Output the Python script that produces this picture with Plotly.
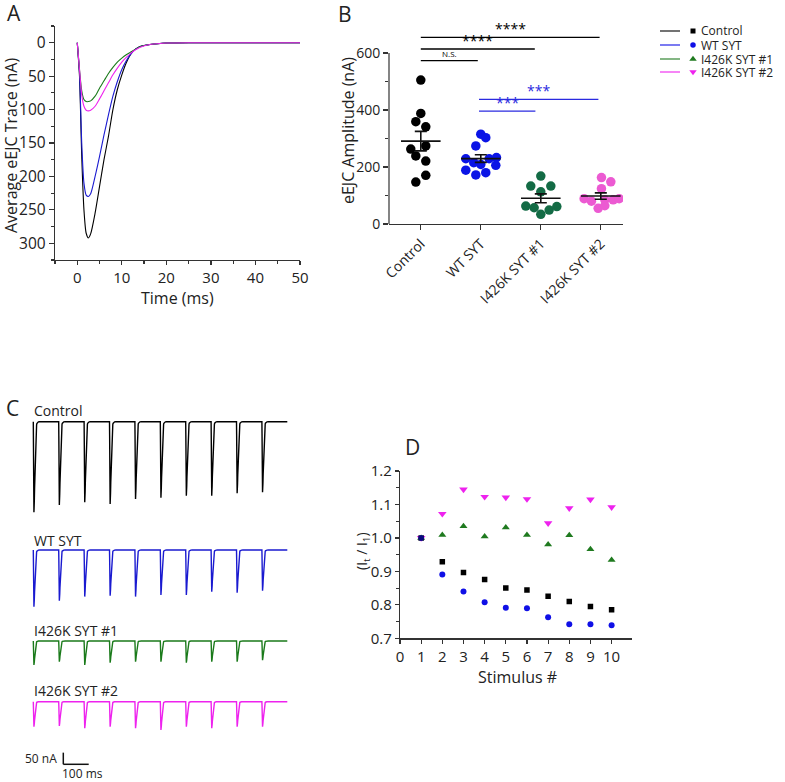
import numpy as np
import plotly.graph_objects as go

W, H = 785, 782

# ---------------- Data ----------------
# Panel A: average eEJC traces (nA) vs time (ms)
t_A = [0, 0.5, 1, 1.5, 2, 2.5, 3, 4, 5, 6, 7, 8, 9, 10, 11, 12, 13, 14, 16, 18, 20, 25, 30, 40, 50]
ctrl_A = [0, 50, 170, 250, 285, 292, 286, 255, 215, 175, 140, 100, 70, 48, 30, 17, 10, 6, 3, 1.5, 0.5, 0, 0, 0, 0]
wt_A = [0, 45, 150, 210, 228, 230, 226, 200, 170, 138, 108, 80, 58, 40, 27, 17, 10, 6, 3, 1.5, 0.5, 0, 0, 0, 0]
m1_A = [0, 40, 72, 85, 88, 88, 87, 80, 68, 57, 46, 37, 29, 23, 18, 14, 10, 6, 3, 1.5, 0.5, 0, 0, 0, 0]
m2_A = [0, 40, 78, 95, 101, 102, 101, 95, 84, 72, 60, 48, 38, 29, 22, 16, 11, 7, 3, 1.5, 0.5, 0, 0, 0, 0]

# Panel B: eEJC amplitudes (nA) with horizontal scatter offsets
groups_B = ["Control", "WT SYT", "I426K SYT #1", "I426K SYT #2"]
ctrl_B = [505, 388, 359, 341, 263, 274, 239, 221, 171, 147]
ctrl_off = [0, 0, -0.083, 0.083, -0.167, 0.083, -0.083, 0.083, 0.083, -0.083]
wt_B = [315, 303, 274, 229, 229, 233, 215, 209, 206, 189, 180, 172]
wt_off = [0, 0.083, -0.083, -0.25, 0.139, 0.261, -0.117, 0, 0.25, -0.25, 0.083, -0.083]
m1_B = [168, 133, 133, 113, 63, 57, 49, 61, 34]
m1_off = [0, -0.167, 0.167, 0, -0.25, -0.111, 0.139, 0.267, 0]
m2_B = [163, 148, 124, 89, 80, 85, 85, 89, 55, 64]
m2_off = [0.011, 0.167, 0.011, -0.278, -0.156, 0.067, 0.206, 0.306, -0.044, 0.067]

# significance brackets: (from group, to group, level nA, label)
sig_from = [0, 0, 0, 0.97, 0.97]
sig_to = [2.98, 1.9, 0.95, 2.96, 1.91]
sig_level = [655, 614, 573, 437, 396]
sig_text = ["****", "****", "N.S.", "***", "***"]

# Panel C: peak amplitudes (nA) of 10 pulses (100 ms apart)
c_ctrl = [389, 357, 346, 353, 332, 326, 318, 318, 307, 303]
c_wt = [243, 218, 200, 196, 200, 193, 193, 179, 183, 175]
c_m1 = [103, 89, 103, 93, 89, 89, 93, 89, 89, 82]
c_m2 = [107, 104, 114, 107, 114, 121, 107, 114, 107, 107]
c_labels = ["Control", "WT SYT", "I426K SYT #1", "I426K SYT #2"]
pulse_interval_ms = 100

# Panel D: normalized amplitude It/I1
stim = [1, 2, 3, 4, 5, 6, 7, 8, 9, 10]
d_ctrl = [1.0, 0.929, 0.897, 0.876, 0.850, 0.844, 0.826, 0.810, 0.795, 0.785]
d_wt = [1.0, 0.891, 0.840, 0.808, 0.791, 0.790, 0.763, 0.742, 0.742, 0.739]
d_m1 = [1.0, 1.009, 1.035, 1.004, 1.031, 1.009, 0.980, 1.008, 0.966, 0.934]
d_m2 = [1.0, 1.072, 1.145, 1.123, 1.121, 1.116, 1.044, 1.089, 1.115, 1.092]

# ---------------- Styling ----------------
FONT = "Open Sans"
TXT = "#222222"
AX = "#333333"
col_line = ["#000000", "#1a1ad0", "#1a7a1a", "#ee22ee"]
col_B = ["#000000", "#0a14e6", "#136b45", "#ec5ad2"]
col_D = ["#000000", "#1010e6", "#1f7a1f", "#ee22ee"]


def xdom(a, b):
    return [a / W, b / W]


def ydom(top, bot):
    return [1 - bot / H, 1 - top / H]


def px(x):
    return x / W


def py(y):
    return 1 - y / H


fig = go.Figure()

# ---------------- Panel A ----------------
for vals, c in zip([ctrl_A, wt_A, m1_A, m2_A], col_line):
    fig.add_trace(go.Scatter(x=t_A, y=vals, mode="lines", line=dict(color=c, width=1.1, shape="spline", smoothing=0.7),
                             xaxis="x", yaxis="y", hoverinfo="skip"))

# ---------------- Panel B ----------------
shapes = []
for gi, (vals, offs, c) in enumerate(zip([ctrl_B, wt_B, m1_B, m2_B], [ctrl_off, wt_off, m1_off, m2_off], col_B)):
    fig.add_trace(go.Scatter(x=[gi + o for o in offs], y=vals, mode="markers",
                             marker=dict(color=c, size=9.5, line=dict(width=0)),
                             xaxis="x2", yaxis="y2", hoverinfo="skip"))
    arr = np.array(vals, dtype=float)
    m = arr.mean()
    sem = arr.std(ddof=1) / np.sqrt(len(arr))
    lk = dict(color="#111111", width=1.6)
    shapes.append(dict(type="line", xref="x2", yref="y2", x0=gi - 0.33, x1=gi + 0.33, y0=m, y1=m, line=lk, layer="above"))
    shapes.append(dict(type="line", xref="x2", yref="y2", x0=gi, x1=gi, y0=m - sem, y1=m + sem, line=lk, layer="above"))
    for yy in (m - sem, m + sem):
        shapes.append(dict(type="line", xref="x2", yref="y2", x0=gi - 0.1, x1=gi + 0.1, y0=yy, y1=yy, line=lk, layer="above"))

# y axis line of B only up to 600
shapes.append(dict(type="line", xref="x2 domain", yref="y2", x0=0, x1=0, y0=0, y1=600, line=dict(color=AX, width=1.2)))

annotations = []
sig_col = ["#000000", "#000000", "#000000", "#2a2ae0", "#2a2ae0"]
for a, b, lv, tx, c in zip(sig_from, sig_to, sig_level, sig_text, sig_col):
    shapes.append(dict(type="line", xref="x2", yref="y2", x0=a, x1=b, y0=lv, y1=lv, line=dict(color=c, width=1.3)))
    small = tx == "N.S."
    annotations.append(dict(xref="x2", yref="y2", x=(a + b) / 2, y=lv, text=tx, showarrow=False,
                            yanchor="bottom", yshift=-3 if not small else 0,
                            font=dict(family=FONT, size=8 if small else 14, color=c)))

# ---------------- Panel C ----------------
tmpl = np.array(ctrl_A, dtype=float) / max(ctrl_A)
C_origin_px = 33.3
C_px_per_ms = 0.254
C_px_per_nA = 0.233
c_x0px, c_x1px = 20, 300
c_xrange = [(c_x0px - C_origin_px) / C_px_per_ms, (c_x1px - C_origin_px) / C_px_per_ms]

c_baselines = [421.7, 550.0, 641.0, 701.7]
c_domains = [(405, 520), (535, 615), (625, 675), (688, 770)]
c_axes = ["y3", "y4", "y5", "y6"]

for amps, c, yax in zip([c_ctrl, c_wt, c_m1, c_m2], col_line, c_axes):
    xs, ys = [], []
    for i, amp in enumerate(amps):
        for t, v in zip(t_A, tmpl):
            xs.append(i * pulse_interval_ms + t)
            ys.append(-amp * v)
    xs.append(len(amps) * pulse_interval_ms)
    ys.append(0)
    fig.add_trace(go.Scatter(x=xs, y=ys, mode="lines", line=dict(color=c, width=1.4),
                             xaxis="x3", yaxis=yax, hoverinfo="skip"))

# scale bar (on the last trace axis): 50 nA, 100 ms
sb_t0 = (63.3 - C_origin_px) / C_px_per_ms
sb_y0 = -(764.3 - c_baselines[3]) / C_px_per_nA
shapes.append(dict(type="line", xref="x3", yref="y6", x0=sb_t0, x1=sb_t0, y0=sb_y0, y1=sb_y0 + 50,
                   line=dict(color="#111111", width=1.5)))
shapes.append(dict(type="line", xref="x3", yref="y6", x0=sb_t0, x1=sb_t0 + 100, y0=sb_y0, y1=sb_y0,
                   line=dict(color="#111111", width=1.5)))

# ---------------- Panel D ----------------
sym = ["square", "circle", "triangle-up", "triangle-down"]
for vals, c, s, sz in zip([d_m2, d_m1, d_ctrl, d_wt], [col_D[3], col_D[2], col_D[0], col_D[1]],
                          [sym[3], sym[2], sym[0], sym[1]], [7.5, 7, 5.5, 6]):
    op = [0.55 if c == col_D[1] and i == 0 else 1 for i in range(len(vals))]
    fig.add_trace(go.Scatter(x=stim, y=vals, mode="markers",
                             marker=dict(color=c, symbol=s, size=sz, opacity=op, line=dict(width=0)),
                             xaxis="x7", yaxis="y7", hoverinfo="skip"))

# ---------------- Legend (overlay axis in pixel units) ----------------
leg_names = ["Control", "WT SYT", "I426K SYT #1", "I426K SYT #2"]
leg_rows = [31, 45, 59, 72]
for name, c, s, sz, yy in zip(leg_names, col_D, sym, [5, 5.5, 6.5, 6.5], leg_rows):
    fig.add_trace(go.Scatter(x=[660, 680], y=[yy, yy], mode="lines", line=dict(color=c, width=1.1),
                             xaxis="x8", yaxis="y8", hoverinfo="skip"))
    fig.add_trace(go.Scatter(x=[693], y=[yy], mode="markers", marker=dict(color=c, symbol=s, size=sz),
                             xaxis="x8", yaxis="y8", hoverinfo="skip"))
    annotations.append(dict(xref="paper", yref="paper", x=px(700), y=py(yy), text=name, showarrow=False,
                            xanchor="left", yanchor="middle", borderpad=0,
                            font=dict(family=FONT, size=12, color=TXT)))

# ---------------- Text annotations ----------------
def txt(x, y, s, size=14, xa="center", ya="middle", angle=0, color=TXT):
    annotations.append(dict(xref="paper", yref="paper", x=px(x), y=py(y), text=s, showarrow=False,
                            xanchor=xa, yanchor=ya, textangle=angle, borderpad=0,
                            font=dict(family=FONT, size=size, color=color)))

txt(6, 13, "A", 21, "left")
txt(337, 14, "B", 21, "left")
txt(5, 408, "C", 21, "left")
txt(404, 447, "D", 21, "left")

txt(11, 146, "Average eEJC Trace (nA)", 16, angle=-90)
txt(177, 298, "Time (ms)", 16)
txt(348, 131, "eEJC Amplitude (nA)", 16, angle=-90)
txt(362, 551, "(I<sub>t</sub> / I<sub>1</sub>)", 14, angle=-90)
txt(517, 677, "Stimulus #", 16)

for lab, yy in zip(c_labels, [410, 540, 630, 690]):
    txt(33, yy, lab, 14, "left")
txt(58, 758, "50 nA", 12, "right")
txt(82, 773, "100 ms", 12)

# ---------------- Layout ----------------
axbase = dict(showgrid=False, zeroline=False, showline=True, linecolor=AX, linewidth=1.2,
              ticks="outside", tickcolor=AX, tickwidth=1.2, ticklen=5, automargin=False,
              tickfont=dict(family=FONT, size=15.5, color=TXT))
hidden = dict(visible=False, showgrid=False, zeroline=False, fixedrange=True, automargin=False)

c_yaxes = {}
for i, (yax, (top, bot), base) in enumerate(zip(c_axes, c_domains, c_baselines)):
    name = "yaxis" + yax[1:]
    c_yaxes[name] = dict(hidden, domain=ydom(top, bot), anchor="x3",
                         range=[-(bot - base) / C_px_per_nA, (base - top) / C_px_per_nA])

fig.update_layout(
    template="none",
    width=W, height=H, margin=dict(l=0, r=0, t=0, b=0, pad=0, autoexpand=False),
    paper_bgcolor="white", plot_bgcolor="rgba(0,0,0,0)", showlegend=False,
    font=dict(family=FONT, color=TXT),
    xaxis=dict(axbase, domain=xdom(55, 300), range=[-5, 50], anchor="y", dtick=10, tick0=0,
               ticklen=4, tickfont=dict(family=FONT, size=15, color=TXT),
               minor=dict(dtick=5, ticklen=3, ticks="outside", tickcolor=AX)),
    yaxis=dict(axbase, domain=ydom(26, 260), range=[325, -25], anchor="x", dtick=50, tick0=0,
               minor=dict(dtick=25, ticklen=3, ticks="outside", tickcolor=AX)),
    xaxis2=dict(axbase, domain=xdom(389, 623), range=[-0.53, 3.37], anchor="y2",
                tickmode="array", tickvals=[0, 1, 2, 3], ticktext=groups_B, tickangle=-45,
                tickfont=dict(family=FONT, size=14, color=TXT)),
    yaxis2=dict(axbase, showline=False, domain=ydom(30.2, 224), range=[0, 680], anchor="x2",
                dtick=200, tick0=0, tickfont=dict(family=FONT, size=14, color=TXT),
                minor=dict(dtick=100, ticklen=3, ticks="outside", tickcolor=AX)),
    xaxis3=dict(hidden, domain=xdom(c_x0px, c_x1px), range=c_xrange, anchor="y3"),
    xaxis7=dict(axbase, domain=xdom(400, 631.7), range=[0, 10.95], anchor="y7", dtick=1, tick0=0,
                ticklen=4, tickfont=dict(family=FONT, size=15, color=TXT)),
    yaxis7=dict(axbase, domain=ydom(471, 638.3), range=[0.7, 1.2], anchor="x7", dtick=0.1, tick0=0.7,
                ticklen=4, tickformat=".1f", tickfont=dict(family=FONT, size=15, color=TXT),
                minor=dict(dtick=0.05, ticklen=3, ticks="outside", tickcolor=AX)),
    xaxis8=dict(hidden, domain=[0, 1], range=[0, W], anchor="y8"),
    yaxis8=dict(hidden, domain=[0, 1], range=[H, 0], anchor="x8"),
    shapes=shapes,
    annotations=annotations,
    **c_yaxes,
)

fig.write_html("out.html", config={"displayModeBar": False, "staticPlot": True},
               post_script="document.body.style.margin='0px';document.body.style.padding='0px';"
                           "document.documentElement.style.overflow='hidden';")
